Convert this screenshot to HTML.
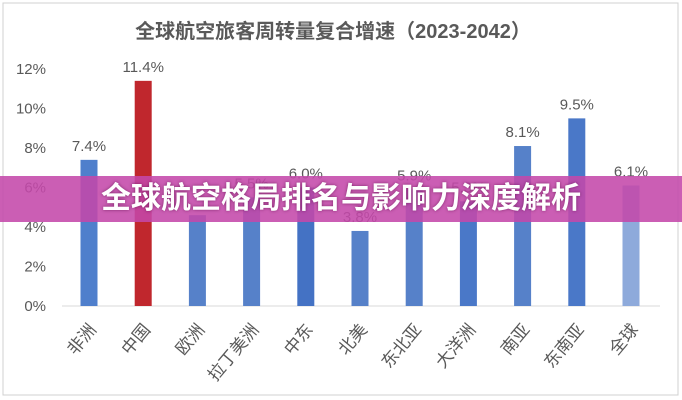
<!DOCTYPE html>
<html><head><meta charset="utf-8"><style>
body{margin:0;width:682px;height:400px;background:#fff;overflow:hidden;font-family:"Liberation Sans","Noto Sans CJK SC",sans-serif}
#banner{position:absolute;left:0;top:176px;width:682px;height:46px;background:rgba(196,72,170,0.88);color:#fff;font:bold 30px "Liberation Sans","Noto Sans CJK SC",sans-serif;text-align:center;line-height:46px;text-shadow:0 0 3px rgba(80,0,60,0.6)}
</style></head><body>
<svg id="chart" width="682" height="400" style="position:absolute;left:0;top:0">
<rect x="3" y="3" width="675" height="392" fill="#fff" stroke="#d0d0d0"/>
<text x="333" y="38" text-anchor="middle" font-size="20" font-weight="bold" fill="#595959" font-family="Liberation Sans, Noto Sans CJK SC, sans-serif">全球航空旅客周转量复合增速（2023-2042）</text>
<g id="plot"></g>
</svg>
<div id="banner">全球航空格局排名与影响力深度解析</div>
<script>
const categories=["非洲","中国","欧洲","拉丁美洲","中东","北美","东北亚","大洋洲","南亚","东南亚","全球"];
const values=[7.4,11.4,4.6,5.5,6.0,3.8,5.9,5.3,8.1,9.5,6.1];
const labels=["7.4%","11.4%","","5.5%","6.0%","3.8%","5.9%","5.3%","8.1%","9.5%","6.1%"];
const yTicks=[0,2,4,6,8,10,12];
const colors=["#4f7fcc","#c0272d","#5681c9","#5681c9","#4472c4","#5681c9","#5681c9","#4a78c8","#5681c9","#4a78c8","#8eaadb"];
const NS="http://www.w3.org/2000/svg";
const g=document.getElementById('plot');
const y0=306,yTop=69,x0=62,step=54.2,bw=17;
const y=v=>y0-(v/12)*(y0-yTop);
const x=i=>x0+27+i*step;
const F="Liberation Sans, Noto Sans CJK SC, sans-serif";
function mk(t,a){const e=document.createElementNS(NS,t);for(const k in a)e.setAttribute(k,a[k]);g.appendChild(e);return e;}
yTicks.forEach(t=>{const e=mk('text',{x:46,y:y(t)+5,'text-anchor':'end','font-size':15,fill:'#595959','font-family':F});e.textContent=t+'%';

});
const base=mk('line',{x1:x0,x2:660,y1:y0,y2:y0,stroke:'#d9d9d9','stroke-width':1});


categories.forEach((c,i)=>{
const r=mk('rect',{x:x(i)-bw/2,y:y(values[i]),width:bw,height:y0-y(values[i]),fill:colors[i]});


if(labels[i]){const t=mk('text',{x:x(i),y:y(values[i])-9,'text-anchor':'middle','font-size':15,fill:'#595959','font-family':F});t.textContent=labels[i];

}
const l=mk('text',{x:x(i)+8,y:y0+24,'text-anchor':'end','font-size':17,fill:'#595959','font-family':F,transform:`rotate(-50 ${x(i)+8} ${y0+24})`});l.textContent=c;


});
</script>
</body></html>
